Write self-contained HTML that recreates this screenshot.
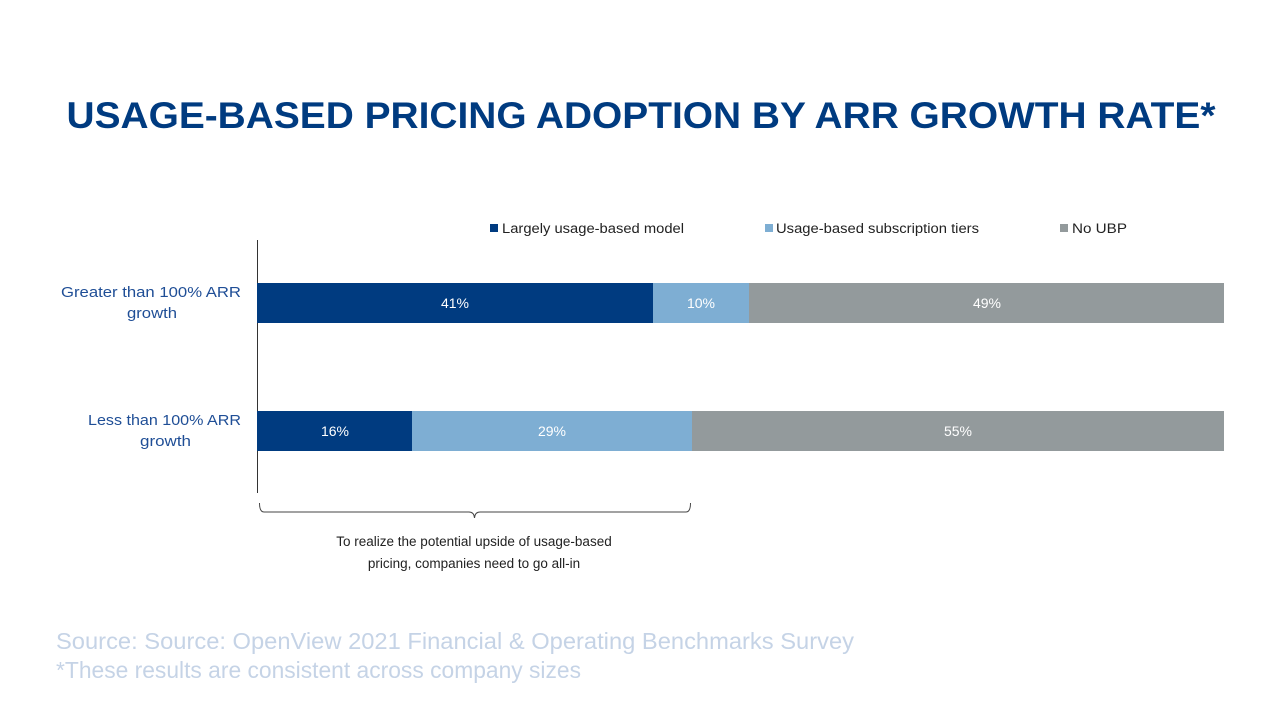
<!DOCTYPE html>
<html><head><meta charset="utf-8"><style>
html,body{margin:0;padding:0;background:#fff;}
svg{display:block;font-family:"Liberation Sans",sans-serif;}
</style></head><body>
<svg width="1280" height="720" viewBox="0 0 1280 720">
<rect width="1280" height="720" fill="#fff"/>
<text x="641" y="128" text-anchor="middle" font-size="37" font-weight="bold" fill="#003b80" textLength="1149" lengthAdjust="spacingAndGlyphs">USAGE-BASED PRICING ADOPTION BY ARR GROWTH RATE*</text>
<g font-size="13.5" fill="#222">
<rect x="490" y="224" width="8" height="8" fill="#003b80"/>
<text x="502" y="233" textLength="182" lengthAdjust="spacingAndGlyphs">Largely usage-based model</text>
<rect x="765" y="224" width="8" height="8" fill="#7eaed3"/>
<text x="776" y="233" textLength="203" lengthAdjust="spacingAndGlyphs">Usage-based subscription tiers</text>
<rect x="1060" y="224" width="8" height="8" fill="#939a9c"/>
<text x="1072" y="233" textLength="55" lengthAdjust="spacingAndGlyphs">No UBP</text>
</g>
<line x1="257.5" y1="240" x2="257.5" y2="493" stroke="#333" stroke-width="1"/>
<rect x="257" y="283" width="396" height="40" fill="#003b80"/>
<rect x="653" y="283" width="96" height="40" fill="#7eaed3"/>
<rect x="749" y="283" width="475" height="40" fill="#939a9c"/>
<rect x="257" y="411" width="155" height="40" fill="#003b80"/>
<rect x="412" y="411" width="280" height="40" fill="#7eaed3"/>
<rect x="692" y="411" width="532" height="40" fill="#939a9c"/>
<g font-size="14" fill="#fff" text-anchor="middle">
<text x="455" y="308">41%</text><text x="701" y="308">10%</text><text x="987" y="308">49%</text>
<text x="335" y="436">16%</text><text x="552" y="436">29%</text><text x="958" y="436">55%</text>
</g>
<g font-size="15" fill="#1f4e96">
<text x="61" y="297" textLength="180" lengthAdjust="spacingAndGlyphs">Greater than 100% ARR</text><text x="127" y="318" textLength="50" lengthAdjust="spacingAndGlyphs">growth</text>
<text x="88" y="425" textLength="153" lengthAdjust="spacingAndGlyphs">Less than 100% ARR</text><text x="140" y="446" textLength="51" lengthAdjust="spacingAndGlyphs">growth</text>
</g>
<path d="M259.5 503 Q259.5 512 264 512 L469 512 Q474 512 474.5 518 Q475 512 480 512 L686 512 Q690.5 512 690.5 503" fill="none" stroke="#444" stroke-width="1"/>
<g font-size="13.5" fill="#222" text-anchor="middle">
<text x="474" y="546">To realize the potential upside of usage-based</text>
<text x="474" y="568">pricing, companies need to go all-in</text>
</g>
<g font-size="23" fill="#c5d3e6">
<text x="56" y="649" textLength="798" lengthAdjust="spacingAndGlyphs">Source: Source: OpenView 2021 Financial &amp; Operating Benchmarks Survey</text>
<text x="56" y="678" textLength="525" lengthAdjust="spacingAndGlyphs">*These results are consistent across company sizes</text>
</g>
</svg>
</body></html>
